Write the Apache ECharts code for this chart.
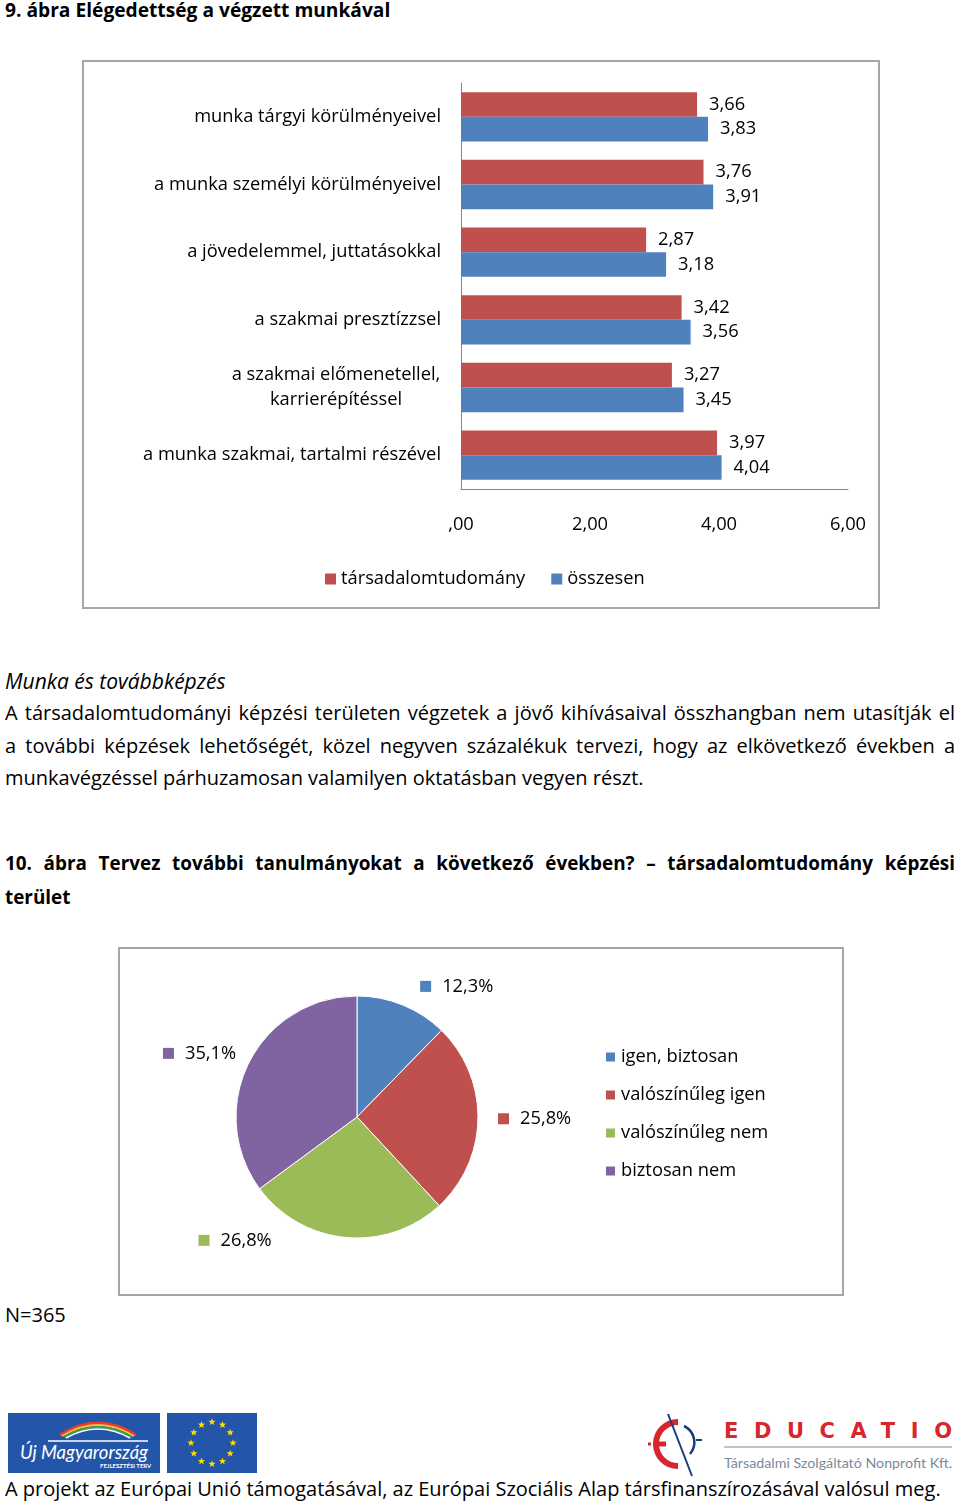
<!DOCTYPE html>
<html><head><meta charset="utf-8">
<script src="https://cdn.jsdelivr.net/npm/echarts@6/dist/echarts.min.js"></script>
<style>
html,body{margin:0;padding:0}
body{width:960px;height:1503px;position:relative;background:#fff;font-family:'Open Sans','Noto Sans',sans-serif;color:#000;overflow:hidden}
.t{position:absolute;left:5px;font-size:20px;line-height:24px;white-space:nowrap}
.j{width:950px;text-align:justify;text-align-last:justify;white-space:normal}
.b{font-weight:bold;font-size:18.9px}
#c1{position:absolute;left:82px;top:60px;width:798px;height:549px}
#c2{position:absolute;left:118px;top:947px;width:726px;height:349px}
svg{position:absolute}
</style></head><body>
<div class="t b" style="top:-2px;font-size:19.2px">9. ábra Elégedettség a végzett munkával</div>
<div id="c1"></div>
<div class="t" style="top:669px;font-style:italic;font-size:21px">Munka és továbbképzés</div>
<div class="t j" style="top:701px">A társadalomtudományi képzési területen végzetek a jövő kihívásaival összhangban nem utasítják el</div>
<div class="t j" style="top:734px">a további képzések lehetőségét, közel negyven százalékuk tervezi, hogy az elkövetkező években a</div>
<div class="t" style="top:766px">munkavégzéssel párhuzamosan valamilyen oktatásban vegyen részt.</div>
<div class="t j b" style="top:851px">10. ábra Tervez további tanulmányokat a következő években? – társadalomtudomány képzési</div>
<div class="t b" style="top:885px">terület</div>
<div id="c2"></div>
<div class="t" style="top:1303px">N=365</div>

<svg style="left:8px;top:1413px" width="152" height="60" viewBox="0 0 152 60">
  <rect width="152" height="60" fill="#2356a8"/>
  <path d="M52 22 Q90 -2 128 22" stroke="#e53935" stroke-width="3" fill="none"/>
  <path d="M54 23 Q90 1 126 23" stroke="#fbc02d" stroke-width="2" fill="none"/>
  <path d="M56 24 Q90 4 124 24" stroke="#43a047" stroke-width="2" fill="none"/>
  <path d="M58 25 Q90 7 122 25" stroke="#ffffff" stroke-width="1.5" fill="none"/>
  <path d="M40 28 L140 28" stroke="#ffffff" stroke-width="1.5"/>
  <text x="12" y="46" fill="#fff" font-family="Lato" font-style="italic" font-size="19" textLength="128" lengthAdjust="spacingAndGlyphs">Új Magyarország</text>
  <text x="92" y="55" fill="#fff" font-family="Lato" font-weight="bold" font-size="6">FEJLESZTÉSI TERV</text>
</svg>
<svg id="eu" style="left:167px;top:1413px" width="90" height="60" viewBox="0 0 90 60">
  <rect width="90" height="60" fill="#2356a8"/>
</svg>
<svg style="left:640px;top:1410px" width="320" height="70" viewBox="0 0 320 70">
  <path d="M38 12 A20 20 0 1 0 38 56" stroke="#d7262e" stroke-width="6" fill="none"/>
  <path d="M14 34 L26 34" stroke="#d7262e" stroke-width="5"/>
  <path d="M8 34 L11 34" stroke="#d7262e" stroke-width="3"/>
  <path d="M28 4 L52 66" stroke="#1b3d7a" stroke-width="2"/>
  <path d="M44 16 A18 18 0 0 1 50 44" stroke="#1b3d7a" stroke-width="2.5" fill="none"/>
  <path d="M56 30 L62 30" stroke="#1b3d7a" stroke-width="2"/>
  <text x="84" y="28" fill="#d7262e" font-family="'DejaVu Sans'" font-weight="bold" font-size="21" textLength="228" lengthAdjust="spacing">EDUCATIO</text>
  <path d="M84 37 L312 37" stroke="#7a8a9a" stroke-width="1.2"/>
  <text x="84" y="58" fill="#7a8a9a" font-family="Lato" font-size="14" textLength="228" lengthAdjust="spacingAndGlyphs">Társadalmi Szolgáltató Nonprofit Kft.</text>
</svg>
<div class="t" style="top:1477px">A projekt az Európai Unió támogatásával, az Európai Szociális Alap társfinanszírozásával valósul meg.</div>

<script>
// ---- data ----
const categories = [
  'munka tárgyi körülményeivel',
  'a munka személyi körülményeivel',
  'a jövedelemmel, juttatásokkal',
  'a szakmai presztízzsel',
  'a szakmai előmenetellel,\nkarrierépítéssel',
  'a munka szakmai, tartalmi részével'
];
const seriesNames = ['társadalomtudomány', 'összesen'];
const tarsadalomtudomany = [3.66, 3.76, 2.87, 3.42, 3.27, 3.97];
const osszesen = [3.83, 3.91, 3.18, 3.56, 3.45, 4.04];
const xTickLabels = [',00', '2,00', '4,00', '6,00'];

const pieCategories = ['igen, biztosan', 'valószínűleg igen', 'valószínűleg nem', 'biztosan nem'];
const pieValues = [12.3, 25.8, 26.8, 35.1];

// ---- EU stars (decoration) ----
(function(){
  const svg = document.getElementById('eu');
  const ns = 'http://www.w3.org/2000/svg';
  for (let k = 0; k < 12; k++) {
    const a = k * Math.PI / 6;
    const cx = 45 + 21 * Math.sin(a), cy = 30 - 21 * Math.cos(a);
    let d = '';
    for (let m = 0; m < 10; m++) {
      const r = m % 2 ? 1.6 : 3.8;
      const b = m * Math.PI / 5;
      d += (m ? 'L' : 'M') + (cx + r * Math.sin(b)).toFixed(2) + ' ' + (cy - r * Math.cos(b)).toFixed(2);
    }
    const p = document.createElementNS(ns, 'path');
    p.setAttribute('d', d + 'Z');
    p.setAttribute('fill', '#ffdd00');
    svg.appendChild(p);
  }
})();

const FONT = 'Open Sans';
const FS = 18.3;
const RED = '#c0504d', BLUE = '#4f81bd', GREEN = '#9bbb59', PURPLE = '#8064a2';
const fmt = v => v.toFixed(2).replace('.', ',');

// ---- chart 1 ----
const c1 = echarts.init(document.getElementById('c1'), null, {renderer: 'canvas'});
c1.setOption({
  animation: false,
  textStyle: {fontFamily: FONT},
  graphic: [{
    type: 'rect', shape: {x: 1, y: 1, width: 796, height: 547},
    style: {fill: 'none', stroke: '#a6a6a6', lineWidth: 2}, silent: true
  }],
  grid: {left: 379, top: 23, right: 32, bottom: 120, containLabel: false},
  legend: {
    data: seriesNames, left: 238, top: 505, icon: 'rect',
    itemWidth: 11, itemHeight: 11, itemGap: 26,
    textStyle: {fontSize: FS, color: '#000', fontFamily: FONT}
  },
  xAxis: {
    type: 'value', min: 0, max: 6, interval: 2,
    axisLine: {show: true, lineStyle: {color: '#868686', width: 1}},
    axisTick: {show: false}, splitLine: {show: false},
    axisLabel: {fontSize: FS, color: '#000', margin: 27, fontFamily: FONT,
      formatter: (v, i) => xTickLabels[i]}
  },
  yAxis: {
    type: 'category', inverse: true, data: categories,
    axisLine: {show: true, lineStyle: {color: '#868686', width: 1}},
    axisTick: {show: false},
    axisLabel: {
      fontSize: FS, color: '#000', margin: 20, fontFamily: FONT,
      formatter: v => v.indexOf('\n') >= 0 ? v.split('\n').map(s => '{c|' + s + '}').join('\n') : v,
      rich: {c: {width: 210, align: 'center', fontSize: FS, lineHeight: 25, color: '#000', fontFamily: FONT}}
    }
  },
  series: [
    {name: seriesNames[0], type: 'bar', data: tarsadalomtudomany, itemStyle: {color: RED},
     barGap: '0%', barCategoryGap: '27%',
     label: {show: true, position: 'right', distance: 12, fontSize: FS, color: '#000', fontFamily: FONT,
       formatter: p => fmt(p.value)}},
    {name: seriesNames[1], type: 'bar', data: osszesen, itemStyle: {color: BLUE},
     barGap: '0%', barCategoryGap: '27%',
     label: {show: true, position: 'right', distance: 12, fontSize: FS, color: '#000', fontFamily: FONT,
       formatter: p => fmt(p.value)}}
  ]
});

// ---- chart 2 ----
const pieColors = [BLUE, RED, GREEN, PURPLE];
const labelShift = [[-5, 0], [-15, 0], [-57, -17], [20, 0]];
const c2 = echarts.init(document.getElementById('c2'), null, {renderer: 'canvas'});
c2.setOption({
  animation: false,
  textStyle: {fontFamily: FONT},
  graphic: [{
    type: 'rect', shape: {x: 1, y: 1, width: 724, height: 347},
    style: {fill: 'none', stroke: '#a6a6a6', lineWidth: 2}, silent: true
  }],
  legend: {
    orient: 'vertical', left: 481, top: 95, icon: 'rect',
    itemWidth: 11, itemHeight: 11, itemGap: 18,
    data: pieCategories,
    textStyle: {fontSize: FS, lineHeight: 20, color: '#000', fontFamily: FONT}
  },
  series: [{
    type: 'pie', center: [239, 170], radius: 121, startAngle: 90, clockwise: true,
    avoidLabelOverlap: false,
    itemStyle: {borderColor: '#fff', borderWidth: 1},
    labelLine: {show: false, length: 20, length2: 10},
    labelLayout: p => ({dx: labelShift[p.dataIndex][0], dy: labelShift[p.dataIndex][1]}),
    label: {show: true, position: 'outside', fontSize: FS, color: '#000', fontFamily: FONT},
    data: pieCategories.map((n, i) => ({
      name: n, value: pieValues[i],
      itemStyle: {color: pieColors[i]},
      label: {
        formatter: p => '{sq| }{v|' + p.value.toFixed(1).replace('.', ',') + '%}',
        rich: {
          sq: {width: 11, height: 11, backgroundColor: pieColors[i]},
          v: {fontSize: FS, color: '#000', padding: [0, 0, 0, 11], fontFamily: FONT}
        }
      }
    }))
  }]
});
</script>
</body></html>
